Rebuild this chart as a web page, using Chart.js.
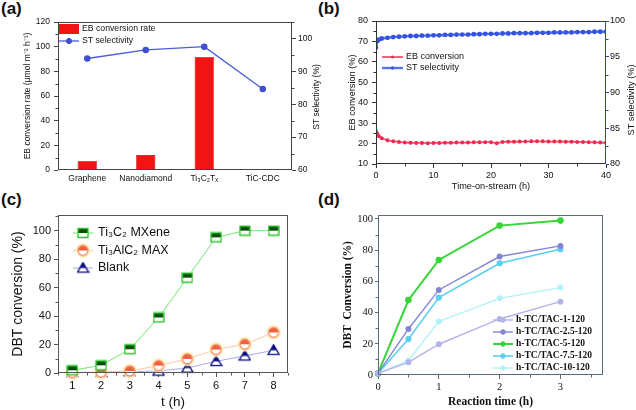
<!DOCTYPE html>
<html>
<head>
<meta charset="utf-8">
<script src="https://cdn.jsdelivr.net/npm/chart.js@4.4.1/dist/chart.umd.min.js"></script>
<style>
  body { margin: 0; background: #fff; width: 636px; height: 410px; position: relative; overflow: hidden; }
  canvas { position: absolute; }
  .lab { position: absolute; font: bold 17px "Liberation Sans", Arial, sans-serif; line-height: 17px; color: #111; }
</style>
</head>
<body>
<div class="lab" style="left:1px;top:0px">(a)</div>
<div class="lab" style="left:318px;top:0px">(b)</div>
<div class="lab" style="left:1px;top:191px">(c)</div>
<div class="lab" style="left:318px;top:191px">(d)</div>
<canvas id="ca" width="330" height="200" style="left:0;top:0"></canvas>
<canvas id="cb" width="320" height="200" style="left:316px;top:0"></canvas>
<canvas id="cc" width="320" height="210" style="left:0;top:200px"></canvas>
<canvas id="cd" width="320" height="210" style="left:316px;top:200px"></canvas>
<script>
// (a) catalysts
const catalystsA = ['Graphene', 'Nanodiamond', 'Ti₃C₂Tₓ', 'TiC-CDC'];
const ebRateA = [7.3, 12.1, 91.7, 0.8];
const stSelA = [93.9, 96.5, 97.5, 84.6];
const ticksA = [0, 20, 40, 60, 80, 100, 120];
const ticksA2 = [60, 70, 80, 90, 100];

// (b) time on stream
const hoursB = [0, 0.25, 0.5, 1, 2, 3, 4, 5, 6, 7, 8, 9, 10, 11, 12, 13, 14, 15, 16, 17, 18, 19, 20,
  21, 22, 23, 24, 25, 26, 27, 28, 29, 30, 31, 32, 33, 34, 35, 36, 37, 38, 39, 40];
const ebConvB = [26.0, 24.8, 23.6, 22.6, 21.6, 21.1, 20.8, 20.5, 20.4, 20.3, 20.3, 20.2, 20.3, 20.3, 20.4,
  20.4, 20.5, 20.5, 20.5, 20.6, 20.6, 20.7, 20.7, 20.1, 20.8, 20.9, 20.9, 21.0, 21.0, 21.1, 21.1, 21.1,
  21.0, 21.0, 21.0, 20.9, 20.9, 20.8, 20.8, 20.7, 20.6, 20.5, 20.4];
const stSelB = [96.3, 97.2, 97.4, 97.55, 97.65, 97.75, 97.8, 97.85, 97.9, 97.9, 97.95, 97.95, 98.0, 98.0,
  98.05, 98.05, 98.1, 98.1, 98.1, 98.15, 98.15, 98.2, 98.2, 98.2, 98.25, 98.25, 98.3, 98.3, 98.3, 98.3,
  98.35, 98.35, 98.35, 98.4, 98.4, 98.4, 98.4, 98.45, 98.45, 98.45, 98.5, 98.5, 98.5];
const ticksB = [10, 20, 30, 40, 50, 60, 70, 80];
const ticksB2 = [80, 85, 90, 95, 100];
const ticksBx = [0, 10, 20, 30, 40];

// (c) DBT conversion vs time
const hoursC = [1, 2, 3, 4, 5, 6, 7, 8];
const mxeneC = [1.9, 5.4, 16.7, 39, 67, 95.3, 100, 100];
const maxC = [0.3, 0.5, 1.4, 5.2, 9.9, 16.5, 20.2, 28.5];
const blankC = [0.4, 0.4, 1, 1.4, 3.5, 8.2, 12, 16];
const ticksC = [0, 20, 40, 60, 80, 100];

// (d) h-TC/TAC series
const hoursD = [0, 0.5, 1, 2, 3];
const tac1 = [1, 8.1, 19.7, 35.9, 47];
const tac25 = [1, 29.5, 54.5, 75.9, 82.7];
const tac5 = [1, 48, 73.7, 95.7, 98.9];
const tac75 = [1, 23, 49.6, 71.6, 80.6];
const tac10 = [1, 9.2, 34.2, 49.1, 56];
const ticksD = [0, 20, 40, 60, 80, 100];
const ticksDx = [0, 1, 2, 3];

const SANS = '"Liberation Sans", Arial, sans-serif';
const SERIF = '"Liberation Serif", "Times New Roman", serif';

Chart.defaults.animation = false;
Chart.defaults.font.family = SANS;
Chart.defaults.color = '#111';
Chart.defaults.plugins.legend.display = false;
Chart.defaults.plugins.tooltip.enabled = false;

const pts = (xs, ys) => xs.map((x, i) => ({ x: x, y: ys[i] }));

function axisCfg(o) {
  const cfg = {
    type: o.type || 'linear',
    position: o.pos,
    min: o.min,
    max: o.max,
    afterFit: s => { if (s.isHorizontal()) s.height = o.size; else s.width = o.size; },
    grid: { drawOnChartArea: false, drawTicks: o.tickLen > 0, tickLength: o.tickLen || 0, color: o.color || '#333', offset: false },
    border: { display: false },
    ticks: { font: { size: o.fs, family: o.family || SANS }, color: '#111', padding: o.pad, maxRotation: 0, autoSkip: false },
    title: { display: false }
  };
  if (o.ticks) cfg.afterBuildTicks = s => { s.ticks = o.ticks.map(v => ({ value: v })); };
  if (o.title) {
    cfg.title = {
      display: true, text: o.title, color: '#111',
      font: { size: o.tfs, family: o.family || SANS, weight: o.bold ? 'bold' : 'normal' },
      padding: { top: o.tpad, bottom: o.tpad }
    };
  }
  return cfg;
}

function framePlugin(o) {
  return {
    id: 'frame',
    afterDraw(chart) {
      const { ctx, chartArea: a, scales } = chart;
      ctx.save();
      ctx.lineWidth = 1;
      ctx.strokeStyle = o.color;
      ctx.strokeRect(a.left + 0.5, a.top + 0.5, a.width - 1, a.height - 1);
      if (o.right) {
        ctx.strokeStyle = o.right;
        ctx.beginPath();
        ctx.moveTo(a.right - 0.5, a.top);
        ctx.lineTo(a.right - 0.5, a.bottom);
        ctx.stroke();
      }
      (o.minor || []).forEach(([id, step]) => {
        const s = scales[id];
        const majors = s.ticks.map(t => t.value);
        ctx.strokeStyle = s.position === 'right' && o.right ? o.right : o.color;
        ctx.beginPath();
        for (let v = Math.ceil(s.min / step) * step; v <= s.max + 1e-9; v += step) {
          if (majors.some(m => Math.abs(m - v) < 1e-6)) continue;
          const p = Math.round(s.getPixelForValue(v)) + 0.5;
          if (s.position === 'bottom') { ctx.moveTo(p, a.bottom); ctx.lineTo(p, a.bottom + 2.5); }
          else if (s.position === 'left') { ctx.moveTo(a.left, p); ctx.lineTo(a.left - 2.5, p); }
          else { ctx.moveTo(a.right, p); ctx.lineTo(a.right + 2.5, p); }
        }
        ctx.stroke();
      });
      (o.texts || []).forEach(t => {
        ctx.save();
        ctx.translate(t.x, t.y);
        ctx.rotate(-Math.PI / 2);
        ctx.font = t.font;
        ctx.fillStyle = '#111';
        ctx.textAlign = 'center';
        ctx.textBaseline = 'middle';
        ctx.fillText(t.text, 0, 0);
        ctx.restore();
      });
      ctx.restore();
    }
  };
}

function legendPlugin(o) {
  return {
    id: 'legendBox',
    afterDatasetsDraw(chart) {
      const ctx = chart.ctx;
      ctx.save();
      ctx.font = o.font;
      ctx.textBaseline = 'middle';
      chart.data.datasets.forEach((ds, i) => {
        const y = o.y + i * o.dy, x0 = o.x, x1 = o.x + o.len, xm = (x0 + x1) / 2;
        if (ds.type === 'bar') {
          ctx.fillStyle = ds.backgroundColor;
          ctx.fillRect(x0, y - o.barH / 2, o.len, o.barH);
        } else {
          ctx.strokeStyle = ds.borderColor;
          ctx.lineWidth = ds.borderWidth;
          ctx.beginPath();
          ctx.moveTo(x0, y);
          ctx.lineTo(x1, y);
          ctx.stroke();
          if (ds.pointStyle instanceof HTMLCanvasElement) {
            const m = ds.pointStyle;
            ctx.drawImage(m, xm - m.width / 2, y - m.height / 2);
          } else if (ds.pointRadius > 0) {
            ctx.beginPath();
            ctx.arc(xm, y, ds.pointRadius, 0, Math.PI * 2);
            ctx.fillStyle = ds.pointBackgroundColor;
            ctx.fill();
            ctx.lineWidth = 1;
            ctx.strokeStyle = ds.pointBorderColor || ds.borderColor;
            ctx.stroke();
          }
        }
        ctx.fillStyle = '#111';
        ctx.fillText(ds.label, x1 + o.gap, y);
      });
      ctx.restore();
    }
  };
}

// half-filled open markers for panel (c)
function halfMarker(shape, size, stroke, fill, halo) {
  const c = document.createElement('canvas');
  const pad = halo ? 3 : 1;
  c.width = c.height = size + 2 * pad;
  const g = c.getContext('2d');
  const m = c.width / 2, r = size / 2;
  const path = () => {
    g.beginPath();
    if (shape === 'rect') g.rect(m - r, m - r + 0.5, size, size - 1);
    else if (shape === 'circle') g.arc(m, m, r, 0, Math.PI * 2);
    else { g.moveTo(m, m - r); g.lineTo(m + r, m + r * 0.75); g.lineTo(m - r, m + r * 0.75); g.closePath(); }
  };
  if (halo) { g.beginPath(); g.arc(m, m, r + 2.5, 0, Math.PI * 2); g.fillStyle = halo; g.fill(); }
  path(); g.fillStyle = '#fff'; g.fill();
  g.save(); path(); g.clip(); g.fillStyle = fill; g.fillRect(0, 0, c.width, m); g.restore();
  path(); g.strokeStyle = stroke; g.lineWidth = 1.3; g.stroke();
  return c;
}

// ---------- (a)
new Chart(document.getElementById('ca'), {
  data: {
    labels: catalystsA,
    datasets: [
      { type: 'bar', label: 'EB conversion rate', data: ebRateA, yAxisID: 'y', order: 2,
        backgroundColor: '#f21414', borderColor: '#b00000', borderWidth: 0.6,
        barPercentage: 0.33, categoryPercentage: 1 },
      { type: 'line', label: 'ST selectivity', data: stSelA, yAxisID: 'y1', order: 1,
        borderColor: '#4a5ad6', borderWidth: 1.3, pointRadius: 2.6,
        pointBackgroundColor: '#3f4fd0', pointBorderColor: '#3f4fd0' }
    ]
  },
  options: {
    responsive: false,
    layout: { padding: { top: 22, right: 0, bottom: 0, left: 0 } },
    scales: {
      x: Object.assign(axisCfg({ type: 'category', pos: 'bottom', size: 30, fs: 8.5, pad: 4, tickLen: 0 }), { offset: true }),
      y: axisCfg({ pos: 'left', min: 0, max: 120, ticks: ticksA, size: 58, fs: 8.5, pad: 4, tickLen: 4, color: '#444',
        title: 'EB conversion rate (μmol m⁻² h⁻¹)', tfs: 8.5, tpad: 23 }),
      y1: axisCfg({ pos: 'right', min: 60, max: 105, ticks: ticksA2, size: 38, fs: 8.5, pad: 2, tickLen: 4, color: '#444' })
    }
  },
  plugins: [
    framePlugin({ color: '#444', minor: [['y', 10], ['y1', 5]],
      texts: [{ text: 'ST selectivity (%)', x: 317, y: 97, font: '8.5px ' + SANS }] }),
    legendPlugin({ x: 59, y: 29, dy: 12, len: 20, gap: 3, barH: 10, font: '8.7px ' + SANS })
  ]
});

// ---------- (b)
new Chart(document.getElementById('cb'), {
  type: 'line',
  data: {
    datasets: [
      { label: 'EB conversion', data: pts(hoursB, ebConvB), yAxisID: 'y',
        borderColor: '#ff4d6e', borderWidth: 1.8, pointRadius: 1.1,
        pointBackgroundColor: '#f02a50', pointBorderColor: '#f02a50' },
      { label: 'ST selectivity', data: pts(hoursB, stSelB), yAxisID: 'y1',
        borderColor: '#5274f0', borderWidth: 2.4, pointRadius: 1.2,
        pointBackgroundColor: '#3553e0', pointBorderColor: '#3553e0' }
    ]
  },
  options: {
    responsive: false,
    layout: { padding: { top: 21, right: 0, bottom: 0, left: 0 } },
    scales: {
      x: axisCfg({ pos: 'bottom', min: 0, max: 40, ticks: ticksBx, size: 36, fs: 9, pad: 2, tickLen: 4,
        title: 'Time-on-stream (h)', tfs: 9.2, tpad: 8 }),
      y: axisCfg({ pos: 'left', min: 10, max: 80, ticks: ticksB, size: 60, fs: 9, pad: 4, tickLen: 4,
        title: 'EB conversion (%)', tfs: 9.2, tpad: 31 }),
      y1: axisCfg({ pos: 'right', min: 80, max: 100, ticks: ticksB2, size: 30, fs: 9, pad: 1, tickLen: 3, color: '#3344aa' })
    }
  },
  plugins: [
    framePlugin({ color: '#333', right: '#3344aa', minor: [['x', 5], ['y', 5], ['y1', 2.5]],
      texts: [{ text: 'ST selectivity (%)', x: 315, y: 100, font: '9.2px ' + SANS }] }),
    legendPlugin({ x: 66, y: 57, dy: 11, len: 21, gap: 3, font: '9px ' + SANS })
  ]
});

// ---------- (c)
const sqMark = halfMarker('rect', 10, '#2ec62e', '#0b4d0b');
const ciMark = halfMarker('circle', 10, '#f58a68', '#f0603c', 'rgba(255,240,185,0.85)');
const trMark = halfMarker('tri', 11, '#0a0a80', '#0a0a80');
new Chart(document.getElementById('cc'), {
  type: 'line',
  data: {
    datasets: [
      { label: 'Ti₃C₂ MXene', data: pts(hoursC, mxeneC), borderColor: '#6fe86f', borderWidth: 1, pointStyle: sqMark, clip: false },
      { label: 'Ti₃AlC₂ MAX', data: pts(hoursC, maxC), borderColor: '#ffc4a6', borderWidth: 1, pointStyle: ciMark, clip: false },
      { label: 'Blank', data: pts(hoursC, blankC), borderColor: '#a8a8f4', borderWidth: 1, pointStyle: trMark, clip: false }
    ]
  },
  options: {
    responsive: false,
    layout: { padding: { top: 15, right: 0, bottom: 0, left: 0 } },
    scales: {
      x: axisCfg({ pos: 'bottom', min: 0.5, max: 8.5, ticks: hoursC, size: 37, fs: 11, pad: 2, tickLen: 4, color: '#555',
        title: 't (h)', tfs: 13.5, tpad: 0 }),
      y: axisCfg({ pos: 'left', min: 0, max: 111, ticks: ticksC, size: 58, fs: 11, pad: 3, tickLen: 4, color: '#555',
        title: 'DBT conversion (%)', tfs: 14, tpad: 10 }),
      y1: axisCfg({ pos: 'right', min: 0, max: 1, ticks: [], size: 32, fs: 1, pad: 0, tickLen: 0 })
    }
  },
  plugins: [
    framePlugin({ color: '#555', minor: [['x', 0.5], ['y', 10]] }),
    legendPlugin({ x: 73, y: 33, dy: 17.5, len: 20, gap: 5, font: '12.5px ' + SANS })
  ]
});

// ---------- (d)
const dSeries = [
  ['h-TC/TAC-1-120', tac1, '#b4b4ea', 1.4],
  ['h-TC/TAC-2.5-120', tac25, '#8585d6', 1.4],
  ['h-TC/TAC-5-120', tac5, '#36d636', 2],
  ['h-TC/TAC-7.5-120', tac75, '#5ccff0', 1.6],
  ['h-TC/TAC-10-120', tac10, '#b4f0fa', 1.4]
];
new Chart(document.getElementById('cd'), {
  type: 'line',
  data: {
    datasets: dSeries.map(([label, ys, col, w]) => ({
      label: label, data: pts(hoursD, ys), borderColor: col, borderWidth: w, clip: false,
      pointRadius: 2.3, pointBackgroundColor: col, pointBorderColor: col
    }))
  },
  options: {
    responsive: false,
    layout: { padding: { top: 15, right: 0, bottom: 0, left: 0 } },
    scales: {
      x: axisCfg({ pos: 'bottom', min: 0, max: 3.7, ticks: ticksDx, size: 35, fs: 10.5, family: SERIF, pad: 2, tickLen: 4, color: '#5a6a80',
        title: 'Reaction time (h)', tfs: 11.5, bold: true, tpad: 1 }),
      y: axisCfg({ pos: 'left', min: 0, max: 102.5, ticks: ticksD, size: 62, fs: 10.5, family: SERIF, pad: 2, tickLen: 3, color: '#5a6a80',
        title: 'DBT  Conversion (%)', tfs: 11.5, bold: true, tpad: 25 }),
      y1: axisCfg({ pos: 'right', min: 0, max: 1, ticks: [], size: 33, fs: 1, pad: 0, tickLen: 0 })
    }
  },
  plugins: [
    framePlugin({ color: '#5a6a80', minor: [['x', 0.5], ['y', 10]] }),
    legendPlugin({ x: 177, y: 120, dy: 12, len: 20, gap: 3, font: 'bold 9.5px ' + SERIF })
  ]
});
</script>
</body>
</html>
